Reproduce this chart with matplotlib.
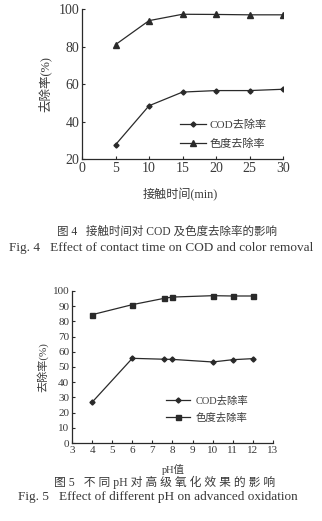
import matplotlib.pyplot as plt

plt.rcParams['font.family'] = ['Liberation Serif', 'Noto Sans CJK SC', 'DejaVu Sans']

# 图4 接触时间
time_min = [5, 10, 15, 20, 25, 30]
cod_time = [27.6, 48.4, 55.7, 56.5, 56.5, 57.2]
color_time = [81.0, 93.8, 97.2, 97.1, 96.9, 96.9]

# 图5 pH
ph = [4, 6, 7.6, 8, 10, 11, 12]
cod_ph = [26.8, 55.7, 55.1, 55.0, 53.3, 54.8, 55.5]
color_ph = [84.4, 91.0, 95.2, 96.0, 96.9, 96.7, 96.7]

line_c = '#2a2a2a'
text_c = '#3a3a3a'

fig = plt.figure(figsize=(3.22, 5.21), dpi=100)


def style_axes(ax, fs):
    for s in ['top', 'right']:
        ax.spines[s].set_visible(False)
    for s in ['left', 'bottom']:
        ax.spines[s].set_color(line_c)
        ax.spines[s].set_linewidth(0.9)
    ax.tick_params(direction='in', length=2.5, width=0.8, colors=line_c,
                   labelcolor=text_c, labelsize=fs, pad=2)


# 上图
ax1 = fig.add_axes([0.2547, 0.6948, 0.6242, 0.2879])
ax1.plot(time_min, cod_time, color=line_c, lw=0.9, marker='D', ms=2.6,
         label='COD去除率')
ax1.plot(time_min, color_time, color=line_c, lw=0.9, marker='^', ms=3.8,
         label='色度去除率')
ax1.set_xlim(0, 30)
ax1.set_ylim(20, 100)
ax1.set_xticks(range(0, 31, 5))
ax1.set_yticks(range(20, 101, 20))
style_axes(ax1, 10)
ax1.set_ylabel('去除率(%)', fontsize=9, color=text_c, labelpad=5)
ax1.legend(loc='upper left', bbox_to_anchor=(0.49, 0.265), frameon=False,
           fontsize=8, handlelength=2.3, handletextpad=0.3,
           labelspacing=0.75, borderpad=0, borderaxespad=0,
           labelcolor=text_c)

fig.text(0.56, 1 - 195 / 521, '接触时间(min)', ha='center', va='center',
         fontsize=8.7, color=text_c)
fig.text(0.52, 1 - 232 / 521, '图 4   接触时间对 COD 及色度去除率的影响',
         ha='center', va='center', fontsize=8.3, color=text_c)
fig.text(0.5, 1 - 248 / 521,
         'Fig. 4   Effect of contact time on COD and color removal',
         ha='center', va='center', fontsize=9.5, color=text_c)

# 下图
ax2 = fig.add_axes([0.2236, 0.1497, 0.6242, 0.2918])
ax2.plot(ph, cod_ph, color=line_c, lw=0.9, marker='D', ms=2.6,
         label='COD去除率')
ax2.plot(ph, color_ph, color=line_c, lw=0.9, marker='s', ms=3.6,
         label='色度去除率')
ax2.set_xlim(3, 13)
ax2.set_ylim(0, 100)
ax2.set_xticks(range(3, 14))
ax2.set_yticks(range(0, 101, 10))
style_axes(ax2, 8)
ax2.set_ylabel('去除率(%)', fontsize=8, color=text_c, labelpad=3)
ax2.legend(loc='upper left', bbox_to_anchor=(0.47, 0.31), frameon=False,
           fontsize=7.5, handlelength=2.3, handletextpad=0.5,
           labelspacing=0.6, borderpad=0, borderaxespad=0,
           labelcolor=text_c)

fig.text(0.537, 1 - 469 / 521, 'pH值', ha='center', va='center',
         fontsize=7.5, color=text_c)
fig.text(0.51, 1 - 482 / 521, '图 5   不 同 pH 对 高 级 氧 化 效 果 的 影 响',
         ha='center', va='center', fontsize=8.5, color=text_c)
fig.text(0.49, 1 - 497 / 521,
         'Fig. 5   Effect of different pH on advanced oxidation',
         ha='center', va='center', fontsize=9.5, color=text_c)

fig.savefig('out.png', dpi=100, facecolor='white')
